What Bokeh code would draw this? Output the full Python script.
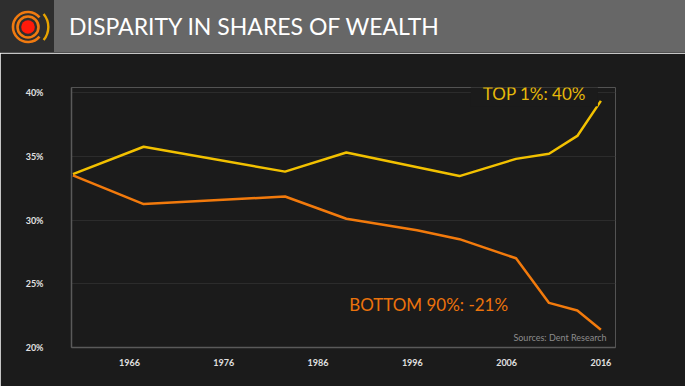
from bokeh.plotting import figure
from bokeh.layouts import column
from bokeh.models import FixedTicker, PrintfTickFormatter, Label, Div
from bokeh.embed import file_html
from bokeh.resources import INLINE

# ---- data ----
title_text = "DISPARITY IN SHARES OF WEALTH"
top_years = [1960, 1967.5, 1982.5, 1989, 2001, 2007, 2010.5, 2013.5, 2016]
top_share = [33.6, 35.75, 33.8, 35.3, 33.45, 34.8, 35.2, 36.6, 39.35]
bottom_years = [1960, 1967.5, 1982.5, 1989, 1996.5, 2001, 2007, 2010.5, 2013.5, 2016]
bottom_share = [33.5, 31.25, 31.85, 30.1, 29.2, 28.5, 27.0, 23.5, 22.9, 21.4]
x_ticks = [1966, 1976, 1986, 1996, 2006, 2016]
y_ticks = [20, 25, 30, 35, 40]
top_label = "TOP 1%: 40%"
bottom_label = "BOTTOM 90%: -21%"
source_label = "Sources: Dent Research"

BG = "#1b1b1b"
TOP_COLOR = "#f2c100"
BOTTOM_COLOR = "#f27a0c"
W = 685
H = 386
HH = 53

# ---- header (HTML) ----
logo_svg = (
    '<svg width="54" height="53" viewBox="0 0 54 53" xmlns="http://www.w3.org/2000/svg">'
    '<circle cx="28" cy="27" r="6.8" fill="#ff1a0a"/>'
    '<circle cx="28" cy="27" r="10.5" fill="none" stroke="#f07a10" stroke-width="2.6"/>'
    '<path d="M 39.5 17.4 A 15 15 0 1 0 39.5 36.6" fill="none" stroke="#f07a10" stroke-width="2.6"/>'
    '<path d="M 43.6 13.9 A 20.5 20.5 0 0 1 43.6 40.1" fill="none" stroke="#e8a400" stroke-width="2.4"/>'
    '</svg>'
)
header_html = (
    f'<div style="position:relative;width:{W}px;height:{HH}px;background:#676767;'
    f'border-bottom:1px solid #505050;box-sizing:border-box;overflow:hidden;">'
    f'<div style="position:absolute;left:0;top:0;width:54px;height:{HH}px;background:#2e2e2e;">'
    f'{logo_svg}</div>'
    f'<div style="position:absolute;left:69px;top:0;height:{HH - 1}px;line-height:{HH - 1}px;'
    f'color:#ffffff;font-family:Lato;font-size:23px;white-space:nowrap;">{title_text}</div>'
    f'</div>'
)
h = Div(text=header_html, width=W, height=HH, margin=0)

# ---- chart ----
p = figure(width=W, height=H - HH, x_range=(1959.85, 2017.55), y_range=(20, 40.4),
           output_backend="svg", toolbar_location=None, margin=0,
           min_border_left=71, min_border_right=70, min_border_top=34, min_border_bottom=39)
p.background_fill_color = BG
p.border_fill_color = BG
p.outline_line_color = None
p.xgrid.visible = False
p.ygrid.grid_line_color = "#2c2c2c"
p.ygrid.grid_line_width = 1
p.ygrid.ticker = FixedTicker(ticks=y_ticks[1:])

for ax in (p.xaxis[0], p.yaxis[0]):
    ax.axis_line_color = "#5a5a5a"
    ax.axis_line_width = 1.5
    ax.major_tick_line_color = None
    ax.minor_tick_line_color = None
    ax.major_label_text_color = "#e0e0e0"
    ax.major_label_text_font = "Lato"
    ax.major_label_text_font_style = "bold"
    ax.major_label_text_font_size = "9px"

p.xaxis.ticker = FixedTicker(ticks=x_ticks)
p.xaxis.major_label_standoff = 5
p.yaxis.ticker = FixedTicker(ticks=y_ticks)
p.yaxis.formatter = PrintfTickFormatter(format="%d%%")
p.yaxis.major_label_standoff = 22

p.line(top_years, top_share, line_color=TOP_COLOR, line_width=2.5, line_join="round")
p.line(bottom_years, bottom_share, line_color=BOTTOM_COLOR, line_width=2.5, line_join="round")

p.add_layout(Label(x=2002.2, y=39.9, text=top_label, text_color="#e6b90a",
                   text_font="Lato", text_font_size="17px", text_baseline="middle",
                   background_fill_color=BG, padding=(12, 2)))
p.add_layout(Label(x=1989.3, y=23.4, text=bottom_label, text_color="#ec730c",
                   text_font="Lato", text_font_size="17px", text_baseline="middle"))
p.add_layout(Label(x=2016.6, y=20.8, text=source_label, text_color="#8c8c8c",
                   text_font="Lato", text_font_size="9px", text_baseline="middle",
                   text_align="right"))

layout = column(h, p, spacing=0)
open("out.html", "w").write(file_html(layout, INLINE))
